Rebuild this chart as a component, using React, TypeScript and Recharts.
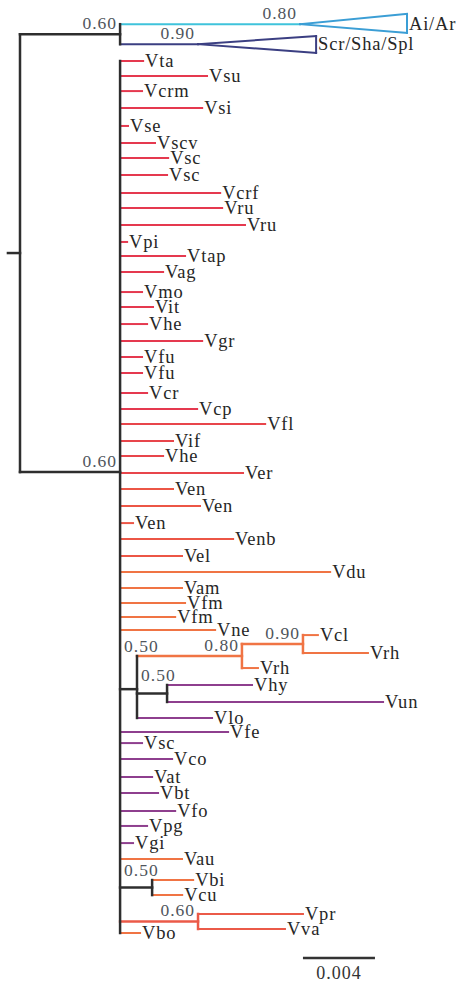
import { ComposedChart, XAxis, YAxis, ReferenceLine, Scatter } from 'recharts';

// ---------- data (branch lengths in substitutions/site, rows = tip order from top) ----------

const TIP_NAMES = [
  'Ai/Ar', 'Scr/Sha/Spl',
  'Vta', 'Vsu', 'Vcrm', 'Vsi', 'Vse', 'Vscv', 'Vsc', 'Vsc', 'Vcrf', 'Vru', 'Vru', 'Vpi',
  'Vtap', 'Vag', 'Vmo', 'Vit', 'Vhe', 'Vgr', 'Vfu', 'Vfu', 'Vcr', 'Vcp', 'Vfl', 'Vif',
  'Vhe', 'Ver', 'Ven', 'Ven', 'Ven', 'Venb', 'Vel', 'Vdu', 'Vam', 'Vfm', 'Vfm', 'Vne',
  'Vcl', 'Vrh', 'Vrh', 'Vhy', 'Vun', 'Vlo', 'Vfe', 'Vsc', 'Vco', 'Vat', 'Vbt', 'Vfo',
  'Vpg', 'Vgi', 'Vau', 'Vbi', 'Vcu', 'Vpr', 'Vva', 'Vbo',
];

const TIP_ROWS = [
  0.7, 1.95,
  3.0, 3.94, 4.88, 5.94, 7.06, 8.13, 9.06, 10.13, 11.25, 12.19, 13.25, 14.31,
  15.19, 16.19, 17.44, 18.38, 19.44, 20.5, 21.5, 22.5, 23.75, 24.75, 25.69, 26.75,
  27.69, 28.75, 29.75, 30.81, 31.88, 32.88, 33.94, 34.94, 35.94, 36.88, 37.75, 38.56,
  38.88, 40.0, 40.94, 42.0, 43.06, 44.06, 44.94, 45.63, 46.63, 47.75, 48.75, 49.88,
  50.81, 51.88, 52.88, 54.19, 55.13, 56.31, 57.25, 57.5,
];

const TIP_LENGTHS = [
  0.01, 0.00433,
  0.00128, 0.00483, 0.00122, 0.00456, 0.00044, 0.00194, 0.00267, 0.00261, 0.00556, 0.00567, 0.00694, 0.00039,
  0.00361, 0.00239, 0.00122, 0.00183, 0.0015, 0.00456, 0.00122, 0.00122, 0.0015, 0.00428, 0.00806, 0.00294,
  0.00239, 0.00683, 0.00294, 0.00444, 0.00072, 0.00628, 0.00344, 0.01167, 0.00344, 0.00361, 0.00306, 0.00528,
  0.00083, 0.00361, 0.00089, 0.00472, 0.012, 0.00417, 0.006, 0.00122, 0.00289, 0.00178, 0.00211, 0.00306,
  0.0015, 0.00072, 0.00344, 0.00228, 0.00167, 0.00583, 0.00483, 0.00111,
];

// internal nodes
const CLADE_IDS = ['root', 'outgroup', 'ingroup', 'nodeA', 'nodeC', 'nodeD', 'nodeB', 'nodeE', 'nodeF'];
const CLADE_SUPPORT = [null, 0.6, 0.6, 0.5, 0.8, 0.9, 0.5, 0.5, 0.6];
const CLADE_LENGTHS = [0.00067, 0.00556, 0.00556, 0.00094, 0.00583, 0.00339, 0.00167, 0.00178, 0.00433];

const INGROUP_TIPS = [
  2, 3, 4, 5, 6, 7, 8, 9, 10, 11, 12, 13, 14, 15, 16, 17, 18, 19, 20, 21, 22, 23, 24, 25,
  26, 27, 28, 29, 30, 31, 32, 33, 34, 35, 36, 37,
];
const CLADE_CHILDREN: (number | string)[][] = [
  ['outgroup', 'ingroup'],
  [0, 1],
  [...INGROUP_TIPS, 'nodeA', 44, 45, 46, 47, 48, 49, 50, 51, 52, 'nodeE', 'nodeF', 57],
  ['nodeC', 'nodeB', 43],
  ['nodeD', 40],
  [38, 39],
  [41, 42],
  [53, 54],
  [55, 56],
];

// collapsed clades drawn as wedges
const WEDGE_TIPS = [0, 1];
const WEDGE_SUPPORT = [0.8, 0.9];
const WEDGE_DEPTH = [0.00594, 0.00656];
const WEDGE_TOP = [0.06, 1.44];
const WEDGE_BOTTOM = [1.25, 2.5];

const SCALE_BAR = 0.004;

// ---------- style ----------

const COLORS: Record<string, string> = {
  k: '#2e2e2e',
  r: '#e5394f',
  r2: '#e8454b',
  co: '#ec5646',
  o: '#f07444',
  ro: '#eb5a48',
  p: '#8e3f8e',
  c: '#3fc3db',
  n: '#3b3f82',
};
const WEDGE_COLORS = ['#3b9ed5', '#3b3f82'];

const TIP_COLOR_KEYS = [
  'c', 'n',
  'r', 'r', 'r', 'r', 'r', 'r', 'r', 'r', 'r', 'r', 'r', 'r',
  'r', 'r', 'r', 'r', 'r', 'r', 'r', 'r', 'r', 'r', 'r2', 'r2',
  'r2', 'r2', 'co', 'co', 'co', 'co', 'co', 'o', 'o', 'o', 'o', 'o',
  'o', 'o', 'o', 'p', 'p', 'p', 'p', 'p', 'p', 'p', 'p', 'p',
  'p', 'p', 'o', 'o', 'o', 'ro', 'ro', 'o',
];
const CLADE_COLOR_KEYS = ['k', 'k', 'k', 'k', 'o', 'o', 'k', 'k', 'ro'];
// 'node': above-left of the node; 'above': over the first child branch
const CLADE_LABEL_MODE = ['', 'node', 'node', 'above', 'node', 'node', 'above', 'above', 'node'];

const W = 461;
const H = 983;
const PX_PER_UNIT = 18000;
const ROW_PX = 16;
const X_DOMAIN: [number, number] = [-20 / PX_PER_UNIT, (W - 20) / PX_PER_UNIT];
const Y_DOMAIN: [number, number] = [-13 / ROW_PX, (H - 13) / ROW_PX];
const SCALE_AT = { x: 0.01572, y: 59.06 };

const FONT = "'Liberation Serif', 'Times New Roman', serif";

interface Seg { x1: number; y1: number; x2: number; y2: number; color: string; width: number }
interface Lbl { x: number; y: number; text: string; mode: string }

function buildTree() {
  const segs: Seg[] = [];
  const tips: { x: number; y: number; name: string }[] = [];
  const supports: Lbl[] = [];

  const place = (ref: number | string, parentX: number): number => {
    if (typeof ref === 'number') {
      const x = parentX + TIP_LENGTHS[ref];
      const y = TIP_ROWS[ref];
      segs.push({ x1: parentX, y1: y, x2: x, y2: y, color: COLORS[TIP_COLOR_KEYS[ref]], width: 2 });
      const w = WEDGE_TIPS.indexOf(ref);
      if (w >= 0) {
        const xe = x + WEDGE_DEPTH[w];
        const col = WEDGE_COLORS[w];
        segs.push({ x1: x, y1: y, x2: xe, y2: WEDGE_TOP[w], color: col, width: 2 });
        segs.push({ x1: x, y1: y, x2: xe, y2: WEDGE_BOTTOM[w], color: col, width: 2 });
        segs.push({ x1: xe, y1: WEDGE_TOP[w], x2: xe, y2: WEDGE_BOTTOM[w], color: col, width: 2 });
        tips.push({ x: xe, y, name: TIP_NAMES[ref] });
        supports.push({ x, y, text: WEDGE_SUPPORT[w].toFixed(2), mode: 'node' });
      } else {
        tips.push({ x, y, name: TIP_NAMES[ref] });
      }
      return y;
    }
    const i = CLADE_IDS.indexOf(ref);
    const x = parentX + CLADE_LENGTHS[i];
    const ys = CLADE_CHILDREN[i].map((c) => place(c, x));
    const y = ys.reduce((a, b) => a + b, 0) / ys.length;
    const col = COLORS[CLADE_COLOR_KEYS[i]];
    segs.push({ x1: parentX, y1: y, x2: x, y2: y, color: col, width: 2.5 });
    segs.push({ x1: x, y1: Math.min(...ys), x2: x, y2: Math.max(...ys), color: col, width: 2.5 });
    const s = CLADE_SUPPORT[i];
    if (s != null) {
      if (CLADE_LABEL_MODE[i] === 'above') {
        supports.push({ x: parentX, y: Math.min(...ys), text: s.toFixed(2), mode: 'above' });
      } else {
        supports.push({ x, y, text: s.toFixed(2), mode: 'node' });
      }
    }
    return y;
  };

  place('root', -CLADE_LENGTHS[0]);
  return { segs, tips, supports };
}

const { segs, tips, supports } = buildTree();

const TipLabel = (props: any) => (
  <text
    x={props.cx + 2}
    y={props.cy + 6}
    fontFamily={FONT}
    fontSize={18.5}
    letterSpacing={0.8}
    fill="#262626"
  >
    {props.payload.name}
  </text>
);

const SupportLabel = (props: any) => {
  const above = props.payload.mode === 'above';
  return (
    <text
      x={above ? props.cx + 4 : props.cx - 3}
      y={above ? props.cy - 4 : props.cy - 5}
      textAnchor={above ? 'start' : 'end'}
      fontFamily={FONT}
      fontSize={17.5}
      letterSpacing={1}
      fill="#4f555c"
    >
      {props.payload.text}
    </text>
  );
};

const ScaleLabel = (props: any) => (
  <text x={props.cx} y={props.cy + 21} textAnchor="middle" fontFamily={FONT} fontSize={18} letterSpacing={1} fill="#333">
    {props.payload.text}
  </text>
);

export default function App() {
  return (
    <div style={{ position: 'absolute', left: 0, top: 0, background: '#fff' }}>
      <ComposedChart width={W} height={H} margin={{ top: 0, right: 0, bottom: 0, left: 0 }}>
        <XAxis type="number" dataKey="x" domain={X_DOMAIN} allowDataOverflow hide />
        <YAxis type="number" dataKey="y" domain={Y_DOMAIN} allowDataOverflow reversed hide />
        {segs.map((s, i) => (
          <ReferenceLine
            key={i}
            segment={[{ x: s.x1, y: s.y1 }, { x: s.x2, y: s.y2 }]}
            stroke={s.color}
            strokeWidth={s.width}
            strokeLinecap="square"
            ifOverflow="visible"
          />
        ))}
        <ReferenceLine
          segment={[{ x: SCALE_AT.x, y: SCALE_AT.y }, { x: SCALE_AT.x + SCALE_BAR, y: SCALE_AT.y }]}
          stroke="#333"
          strokeWidth={2.5}
          ifOverflow="visible"
        />
        <Scatter data={tips} shape={TipLabel} isAnimationActive={false} />
        <Scatter data={supports} shape={SupportLabel} isAnimationActive={false} />
        <Scatter
          data={[{ x: SCALE_AT.x + SCALE_BAR / 2, y: SCALE_AT.y, text: String(SCALE_BAR) }]}
          shape={ScaleLabel}
          isAnimationActive={false}
        />
      </ComposedChart>
    </div>
  );
}
